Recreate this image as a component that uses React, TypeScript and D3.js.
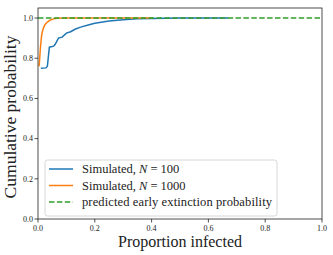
import React from "react";
import * as d3 from "d3";

const blueX = [0.01, 0.028, 0.033, 0.04, 0.055, 0.06, 0.072, 0.085, 0.1, 0.115, 0.13, 0.15, 0.18, 0.2, 0.25, 0.3, 0.35, 0.4, 0.45, 0.5, 0.67];
const blueY = [0.75, 0.752, 0.76, 0.855, 0.86, 0.868, 0.9, 0.905, 0.925, 0.932, 0.944, 0.955, 0.967, 0.974, 0.985, 0.992, 0.996, 0.998, 0.999, 1.0, 1.0];
const orangeX = [0.004, 0.006, 0.008, 0.011, 0.014, 0.019, 0.025, 0.033, 0.042, 0.055, 0.066, 0.1, 0.2, 0.3, 0.4];
const orangeY = [0.76, 0.8, 0.843, 0.89, 0.926, 0.95, 0.968, 0.98, 0.989, 0.996, 0.999, 1.0, 1.0, 1.0, 1.0];
const predictedP = 1.0;
const xTicks = [0, 0.2, 0.4, 0.6, 0.8, 1.0];
const yTicks = [0, 0.2, 0.4, 0.6, 0.8, 1.0];

const W = 333, H = 255;
const L = 38, R = 322, T = 8, B = 219;

export default function App() {
  const x = d3.scaleLinear().domain([0, 1]).range([L, R]);
  const y = d3.scaleLinear().domain([0, 1.05]).range([B, T]);
  const line = d3.line<[number, number]>().x(d => x(d[0])).y(d => y(d[1]));
  const blue = blueX.map((v, i) => [v, blueY[i]] as [number, number]);
  const orange = orangeX.map((v, i) => [v, orangeY[i]] as [number, number]);
  const green: [number, number][] = [[0, predictedP], [1, predictedP]];
  const font = "'Liberation Serif', 'Times New Roman', serif";
  const lx = 45, ly = 160, lw = 232, lh = 56;
  const rows = [169, 185.5, 202];
  return (
    <svg width={W} height={H} style={{ position: "absolute", left: 0, top: 0, background: "#fff" }} fontFamily={font}>
      <rect width={W} height={H} fill="#fff" />
      <defs>
        <clipPath id="clip"><rect x={L} y={T} width={R - L} height={B - T} /></clipPath>
      </defs>
      <g clipPath="url(#clip)">
        <path d={line(blue)!} fill="none" stroke="#1f77b4" strokeWidth={1.5} />
        <path d={line(orange)!} fill="none" stroke="#ff7f0e" strokeWidth={1.5} />
        <path d={line(green)!} fill="none" stroke="#2ca02c" strokeWidth={1.5} strokeDasharray="5.5,2.4" />
      </g>
      <rect x={L} y={T} width={R - L} height={B - T} fill="none" stroke="#222" strokeWidth={0.8} />
      {xTicks.map(t => (
        <g key={"x" + t}>
          <line x1={x(t)} x2={x(t)} y1={B} y2={B + 3.5} stroke="#222" strokeWidth={0.8} />
          <text x={x(t)} y={B + 12} fontSize={8} textAnchor="middle" fill="#222">{t.toFixed(1)}</text>
        </g>
      ))}
      {yTicks.map(t => (
        <g key={"y" + t}>
          <line x1={L - 3.5} x2={L} y1={y(t)} y2={y(t)} stroke="#222" strokeWidth={0.8} />
          <text x={L - 5} y={y(t) + 2.8} fontSize={8} textAnchor="end" fill="#222">{t.toFixed(1)}</text>
        </g>
      ))}
      <text x={(L + R) / 2} y={247} fontSize={16} textAnchor="middle" fill="#222">Proportion infected</text>
      <text transform={`translate(16,117) rotate(-90)`} fontSize={17.5} textAnchor="middle" fill="#222">Cumulative probability</text>
      <rect x={lx} y={ly} width={lw} height={lh} rx={2.5} fill="#fff" fillOpacity={0.8} stroke="#ccc" strokeWidth={0.8} />
      <line x1={49} x2={73} y1={rows[0]} y2={rows[0]} stroke="#1f77b4" strokeWidth={1.5} />
      <line x1={49} x2={73} y1={rows[1]} y2={rows[1]} stroke="#ff7f0e" strokeWidth={1.5} />
      <line x1={49} x2={73} y1={rows[2]} y2={rows[2]} stroke="#2ca02c" strokeWidth={1.5} strokeDasharray="5.5,2.4" />
      <text x={82} y={rows[0] + 4} fontSize={12.5} fill="#222">Simulated, <tspan fontStyle="italic">N</tspan> = 100</text>
      <text x={82} y={rows[1] + 4} fontSize={12.5} fill="#222">Simulated, <tspan fontStyle="italic">N</tspan> = 1000</text>
      <text x={82} y={rows[2] + 4} fontSize={12.5} fill="#222" textLength={190} lengthAdjust="spacing">predicted early extinction probability</text>
    </svg>
  );
}
